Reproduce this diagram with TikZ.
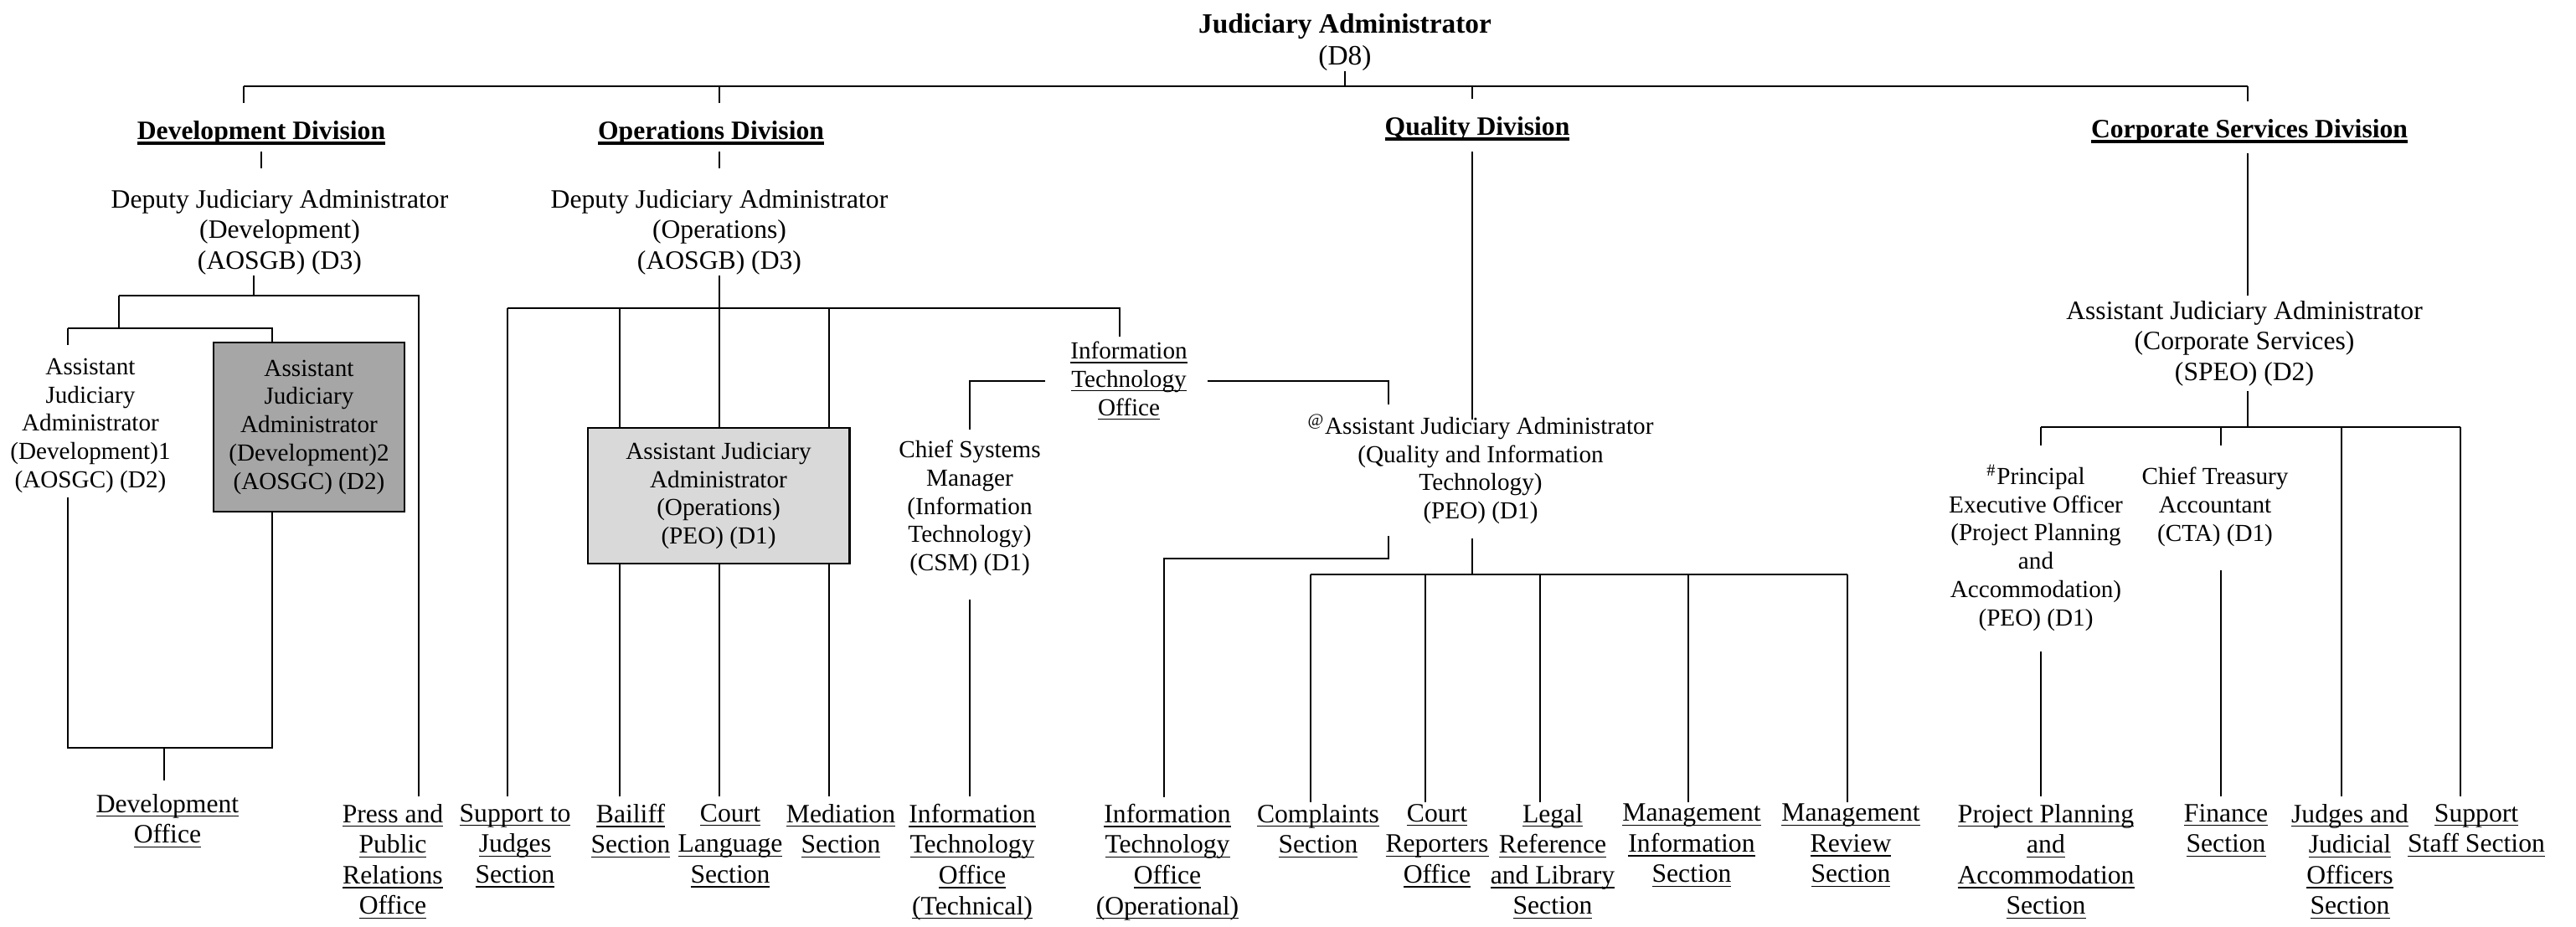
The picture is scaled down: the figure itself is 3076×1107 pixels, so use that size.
\documentclass[tikz,border=0pt]{standalone}
\usepackage{amsmath}
\usepackage{fontspec}
\setmainfont{Liberation Serif}
\usetikzlibrary{positioning}
\definecolor{postdark}{HTML}{A6A6A6}
\definecolor{postlight}{HTML}{D9D9D9}
\newsavebox{\hdbox}
\newcommand{\hdul}[1]{\sbox{\hdbox}{#1}\rlap{\rule[-2pt]{\wd\hdbox}{1.05pt}}\usebox{\hdbox}}
\newcommand{\ul}[1]{\underline{\smash[b]{#1}}}

\begin{document}
\begin{tikzpicture}[x=0.01cm,y=-0.01cm,line width=0.6pt,
   txt/.style={align=center,inner sep=0pt,anchor=north,
               font=\fontsize{9}{10.4}\selectfont},
   sml/.style={txt,font=\fontsize{8.3}{9.6}\selectfont},
   hd/.style={txt,font=\fontsize{9}{10.4}\selectfont\bfseries},
   post/.style={draw,line width=0.8pt,align=center,inner sep=0pt,
                font=\fontsize{8.3}{9.6}\selectfont}]
  \useasboundingbox (0,0) rectangle (3076,1107);
  % heads
  \node[txt,font=\fontsize{9.5}{10.8}\selectfont] (JA) at (1606,15)
       {\textbf{Judiciary Administrator}\\(D8)};
  \node[hd] (DD) at (312,143) {\hdul{Development Division}};
  \node[hd] (OD) at (849,143) {\hdul{Operations Division}};
  \node[hd] (QD) at (1764,138) {\hdul{Quality Division}};
  \node[hd] (CD) at (2686,141) {\hdul{Corporate Services Division}};
  % posts
  \node[txt] (DDep) at (334,225) {Deputy Judiciary Administrator\\(Development)\\(AOSGB) (D3)};
  \node[txt] (ODep) at (859,225) {Deputy Judiciary Administrator\\(Operations)\\(AOSGB) (D3)};
  \node[sml] (A1) at (108,427) {Assistant\\Judiciary\\Administrator\\(Development)1\\(AOSGC) (D2)};
  \node[post,fill=postdark,minimum width=2.28cm,minimum height=2.02cm] (A2) at (369,510)
       {Assistant\\Judiciary\\Administrator\\(Development)2\\(AOSGC) (D2)};
  \node[post,fill=postlight,minimum width=3.12cm,minimum height=1.62cm] (AO) at (858,592)
       {Assistant Judiciary\\Administrator\\(Operations)\\(PEO) (D1)};
  \node[sml] (IT) at (1348,407) {\ul{Information}\\\ul{Technology}\\\ul{Office}};
  \node[sml] (CSM) at (1158,525) {Chief Systems\\Manager\\(Information\\Technology)\\(CSM) (D1)};
  \node[sml] (QA) at (1768,497) {\smash{\textsuperscript{@}}Assistant Judiciary Administrator\\(Quality and Information\\Technology)\\(PEO) (D1)};
  \node[txt] (CA) at (2680,358) {Assistant Judiciary Administrator\\(Corporate Services)\\(SPEO) (D2)};
  \node[sml] (PE) at (2431,557) {\smash{\textsuperscript{\#}}Principal\\Executive Officer\\(Project Planning\\and\\Accommodation)\\(PEO) (D1)};
  \node[sml] (CT) at (2645,557) {Chief Treasury\\Accountant\\(CTA) (D1)};
  % sections and offices
  \node[txt] (DO) at (200,947) {\ul{Development}\\\ul{Office}};
  \node[txt] (PR) at (469,959) {\ul{Press and}\\\ul{Public}\\\ul{Relations}\\\ul{Office}};
  \node[txt] (SJ) at (615,959) {\ul{Support to}\\\ul{Judges}\\\ul{Section}};
  \node[txt] (BS) at (753,959) {\ul{Bailiff}\\\ul{Section}};
  \node[txt] (CL) at (872,959) {\ul{Court}\\\ul{Language}\\\ul{Section}};
  \node[txt] (MS) at (1004,959) {\ul{Mediation}\\\ul{Section}};
  \node[txt] (ITT) at (1161,959) {\ul{Information}\\\ul{Technology}\\\ul{Office}\\\ul{(Technical)}};
  \node[txt] (ITO) at (1394,959) {\ul{Information}\\\ul{Technology}\\\ul{Office}\\\ul{(Operational)}};
  \node[txt] (CS) at (1574,959) {\ul{Complaints}\\\ul{Section}};
  \node[txt] (CR) at (1716,959) {\ul{Court}\\\ul{Reporters}\\\ul{Office}};
  \node[txt] (LR) at (1854,959) {\ul{Legal}\\\ul{Reference}\\\ul{and Library}\\\ul{Section}};
  \node[txt] (MI) at (2020,959) {\ul{Management}\\\ul{Information}\\\ul{Section}};
  \node[txt] (MR) at (2210,959) {\ul{Management}\\\ul{Review}\\\ul{Section}};
  \node[txt] (PP) at (2443,959) {\ul{Project Planning}\\\ul{and}\\\ul{Accommodation}\\\ul{Section}};
  \node[txt] (FS) at (2658,959) {\ul{Finance}\\\ul{Section}};
  \node[txt] (JJ) at (2806,959) {\ul{Judges and}\\\ul{Judicial}\\\ul{Officers}\\\ul{Section}};
  \node[txt] (SS) at (2957,959) {\ul{Support}\\\ul{Staff Section}};
  % top level
  \coordinate (t1) at (291,103);
  \coordinate (t2) at (859,103);
  \coordinate (t3) at (1758,103);
  \coordinate (t4) at (2684,103);
  \draw (JA.south) -- (JA.south |- t1);
  \draw (t1) -- (t4);
  \foreach \c/\n in {t1/DD,t2/OD,t3/QD,t4/CD}
    \draw (\c) -- ([yshift=2mm]\c |- \n.north);
  % development
  \coordinate (d1) at (142,353);
  \coordinate (d2) at (303,353);
  \coordinate (d3) at (500,353);
  \coordinate (e1) at (81,392);
  \coordinate (e2) at (325,392);
  \coordinate (f1) at (196,893);
  \draw ([yshift=-0.7mm]DD.south) -- ++(0,20);
  \draw (d2 |- DDep.south) -- (d2);
  \draw (d1) -- (d3) -- ([yshift=0.8mm]d3 |- PR.north);
  \draw (d1) -- (d1 |- e1);
  \draw (e1) -- (e2) -- (A2.north -| e2);
  \draw (e1) -- ([yshift=1.5mm]e1 |- A1.north);
  \draw ([yshift=-0.4mm]e1 |- A1.south) -- (e1 |- f1) -- (e2 |- f1) -- (e2 |- A2.south);
  \draw (f1) -- ([yshift=1.5mm]f1 |- DO.north);
  % operations
  \coordinate (o1) at (606,368);
  \coordinate (o2) at (1337,368);
  \draw ([yshift=-0.7mm]t2 |- OD.south) -- ++(0,20);
  \draw (ODep.south) -- (ODep.south |- o1);
  \draw (o1) -- (o2) -- ([yshift=0.5mm]o2 |- IT.north);
  \draw (o1) -- ([yshift=0.8mm]o1 |- SJ.north);
  \foreach \x/\n in {740/BS,859/CL,990/MS}{
    \draw (\x,368) -- (\x,0 |- AO.north);
    \draw (\x,0 |- AO.south) -- ([yshift=0.8mm]\x,0 |- \n.north);
  }
  \coordinate (q1) at (1658,483);
  \draw ([xshift=-2.9mm]IT.west) -| ([yshift=1.2mm]CSM.north);
  \draw ([xshift=2.3mm]IT.east) -| (q1);
  \draw ([yshift=-2.7mm]CSM.south) -- ([yshift=0.8mm]CSM.south |- ITT.north);
  % quality
  \coordinate (q2) at (1390,667);
  \coordinate (q3) at (1565,686);
  \coordinate (q4) at (2206,686);
  \draw ([yshift=-1.2mm]t3 |- QD.south) -- ([yshift=-0.4mm]t3 |- QA.north);
  \draw ([yshift=-1.3mm]q1 |- QA.south) -- (q1 |- q2) -- (q2) -- ([yshift=0.7mm]q2 |- ITO.north);
  \draw ([yshift=-1.6mm]t3 |- QA.south) -- (t3 |- q3);
  \draw (q3) -- (q4);
  \foreach \x/\n in {1565/CS,1702/CR,1839/LR,2016/MI,2206/MR}
    \draw (\x,686) -- ([yshift=0.1mm]\x,0 |- \n.north);
  % corporate services
  \coordinate (c1) at (2437,510);
  \coordinate (c2) at (2652,510);
  \coordinate (c3) at (2796,510);
  \coordinate (c4) at (2938,510);
  \draw ([yshift=-1.1mm]t4 |- CD.south) -- ([yshift=0.5mm]t4 |- CA.north);
  \draw ([yshift=-0.5mm]t4 |- CA.south) -- (t4 |- c1);
  \draw (c1) -- (c4);
  \draw (c1) -- ([yshift=2.5mm]c1 |- PE.north);
  \draw (c2) -- ([yshift=2.5mm]c2 |- CT.north);
  \draw (c3) -- ([yshift=0.8mm]c3 |- JJ.north);
  \draw (c4) -- ([yshift=0.8mm]c4 |- SS.north);
  \draw ([yshift=-2.4mm]c1 |- PE.south) -- ([yshift=0.8mm]c1 |- PP.north);
  \draw ([yshift=-2.8mm]c2 |- CT.south) -- ([yshift=0.8mm]c2 |- FS.north);
\end{tikzpicture}
\end{document}
